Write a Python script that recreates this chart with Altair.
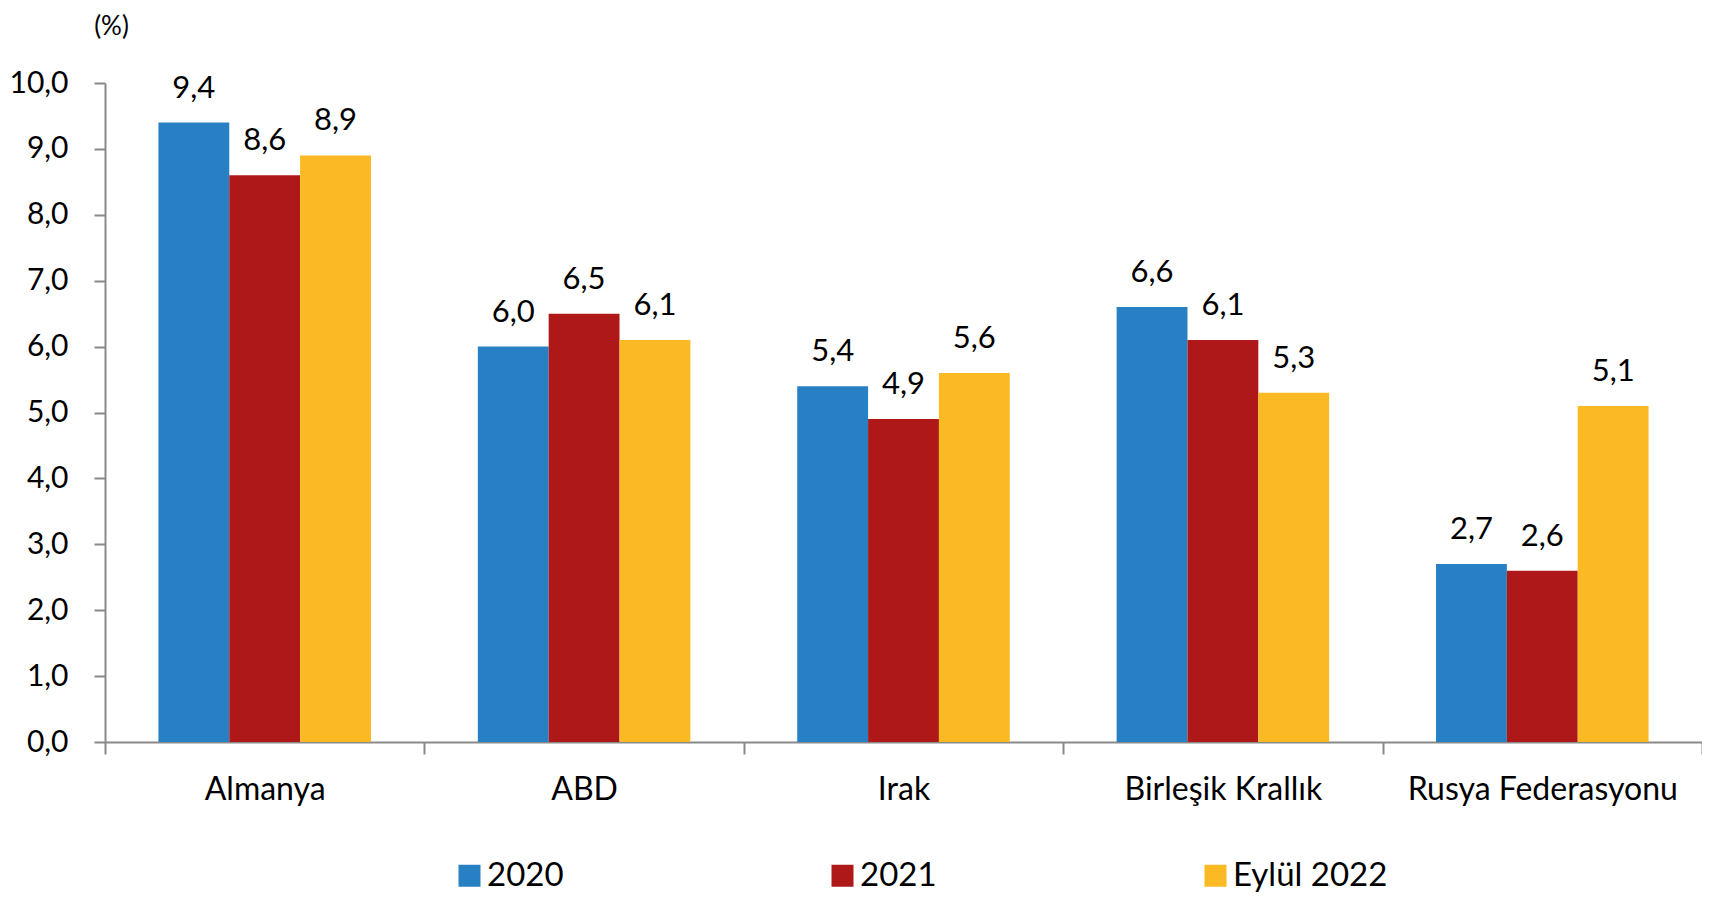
import altair as alt
import pandas as pd

countries = ["Almanya", "ABD", "Irak", "Birleşik Krallık", "Rusya Federasyonu"]
series = ["2020", "2021", "Eylül 2022"]
v2020 = [9.4, 6.0, 5.4, 6.6, 2.7]
v2021 = [8.6, 6.5, 4.9, 6.1, 2.6]
v2022 = [8.9, 6.1, 5.6, 5.3, 5.1]
colors = ["#2880C4", "#AE1818", "#FBBA24"]

rows = []
for s, vals in zip(series, [v2020, v2021, v2022]):
    for c, v in zip(countries, vals):
        rows.append({"country": c, "series": s, "value": v})
df = pd.DataFrame(rows)

FONT = "Lato"

base = alt.Chart(df).transform_calculate(
    label="replace(format(datum.value, '.1f'), '.', ',')"
)

x = alt.X("country:N", sort=countries, title=None,
          scale=alt.Scale(paddingInner=0, paddingOuter=0),
          axis=alt.Axis(labelAngle=0, tickBand="extent", labelFontSize=32,
                        labelFont=FONT, labelColor="#000", labelPadding=20,
                        labelBaseline="top", labelLimit=500,
                        domainColor="#898989", domainWidth=2,
                        tickColor="#898989", tickWidth=2, tickSize=12))
xo = alt.XOffset("series:N", sort=series,
                 scale=alt.Scale(paddingInner=0, paddingOuter=0.754))
y = alt.Y("value:Q", scale=alt.Scale(domain=[0, 10], nice=False),
          axis=alt.Axis(values=list(range(0, 11)), labelExpr="replace(format(datum.value, '.1f'), '.', ',')",
                        labelFontSize=30, labelFont=FONT, labelColor="#000", labelPadding=26,
                        domainColor="#898989", domainWidth=2, tickColor="#898989",
                        tickWidth=2, tickSize=11, grid=False,
                        title="(%)", titleAngle=0, titleX=6, titleY=-70,
                        titleAlign="center", titleBaseline="top",
                        titleFont=FONT, titleFontSize=26, titleFontWeight="normal",
                        titleColor="#000"))

bars = base.mark_bar().encode(
    x=x, xOffset=xo, y=y,
    color=alt.Color("series:N", sort=series,
                    scale=alt.Scale(domain=series, range=colors),
                    legend=alt.Legend(title=None, orient="none", direction="horizontal",
                                      legendX=348, legendY=776, symbolType="square",
                                      symbolSize=484, symbolStrokeWidth=0,
                                      labelFont=FONT, labelFontSize=33, labelColor="#000",
                                      labelOffset=1, columnPadding=262, labelLimit=400)),
)

labels = base.mark_text(baseline="alphabetic", dy=-25, font=FONT, fontSize=31, color="#000").encode(
    x=x, xOffset=xo, y=y, text="label:N"
)

chart = alt.layer(bars, labels).properties(
    width=1597, height=659,
    autosize=alt.AutoSizeParams(type="none"),
    padding={"left": 97, "top": 75, "right": 0, "bottom": 152},
).configure_view(stroke=None)

chart.save("out.html", embed_options={"renderer": "svg", "actions": False})
